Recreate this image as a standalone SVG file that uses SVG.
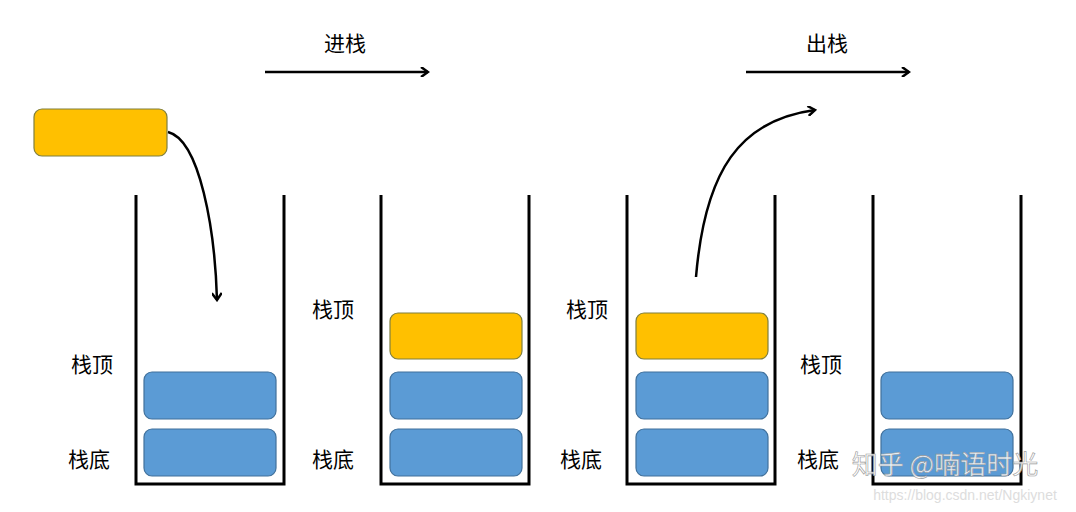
<svg xmlns="http://www.w3.org/2000/svg" width="1076" height="512" viewBox="0 0 1076 512">
<style>
.c{fill:none;stroke:#000;stroke-width:3}
.b{fill:#5B9BD5;stroke:#41719C;stroke-width:1.2}
.y{fill:#FFC000;stroke:#7F7F3F;stroke-width:1.2}
.t{font-family:"Noto Sans CJK SC",sans-serif;font-size:21px;fill:#000;text-anchor:middle}
.a{fill:none;stroke:#000;stroke-width:2.5}
</style>
<defs><marker id="m" markerWidth="10" markerHeight="10" refX="8" refY="5" orient="auto" markerUnits="userSpaceOnUse"><path d="M1,0 L8,5 L1,10" fill="none" stroke="#000" stroke-width="2.5"/></marker></defs>
<rect width="1076" height="512" fill="#fff"/>
<g id="stack1"><path class="c" d="M136,195 V484 H284 V195"/><rect class="b" x="144" y="372" width="132" height="47" rx="8"/><rect class="b" x="144" y="429" width="132" height="47" rx="8"/><text class="t" x="92" y="372">栈顶</text><text class="t" x="89" y="467">栈底</text></g>
<g id="stack2"><path class="c" d="M381,195 V484 H529 V195"/><rect class="y" x="390" y="313" width="132" height="46" rx="8"/><rect class="b" x="390" y="372" width="132" height="47" rx="8"/><rect class="b" x="390" y="429" width="132" height="47" rx="8"/><text class="t" x="333" y="317">栈顶</text><text class="t" x="333" y="467">栈底</text></g>
<g id="stack3"><path class="c" d="M627,195 V484 H775 V195"/><rect class="y" x="636" y="313" width="132" height="46" rx="8"/><rect class="b" x="636" y="372" width="132" height="47" rx="8"/><rect class="b" x="636" y="429" width="132" height="47" rx="8"/><text class="t" x="587" y="317">栈顶</text><text class="t" x="581" y="467">栈底</text></g>
<g id="stack4"><path class="c" d="M873,195 V484 H1021 V195"/><rect class="b" x="881" y="372" width="132" height="47" rx="8"/><rect class="b" x="881" y="429" width="132" height="47" rx="8"/><text class="t" x="821" y="372">栈顶</text><text class="t" x="818" y="467">栈底</text></g>
<g id="block"><rect class="y" x="34" y="109" width="133" height="47" rx="8"/></g>
<g id="connectors">
<path class="a" d="M168,132 C200,140 215,230 217,300" marker-end="url(#m)"/>
<path class="a" d="M696,277 C705,170 740,120 815,110" marker-end="url(#m)"/>
<path class="a" d="M265,72 H428" marker-end="url(#m)"/>
<path class="a" d="M746,72 H909" marker-end="url(#m)"/>
</g>
<text class="t" x="345" y="51">进栈</text>
<text class="t" x="827" y="51">出栈</text>
<text x="945" y="474" style="font-family:'Noto Sans CJK SC',sans-serif;font-size:26px;fill:#fff;fill-opacity:0.85;stroke:#999;stroke-width:0.6;text-anchor:middle">知乎 @喃语时光</text>
<text x="965" y="500" style="font-family:'Liberation Sans',sans-serif;font-size:14px;fill:#ddd;text-anchor:middle">https://blog.csdn.net/Ngkiynet</text>
</svg>
